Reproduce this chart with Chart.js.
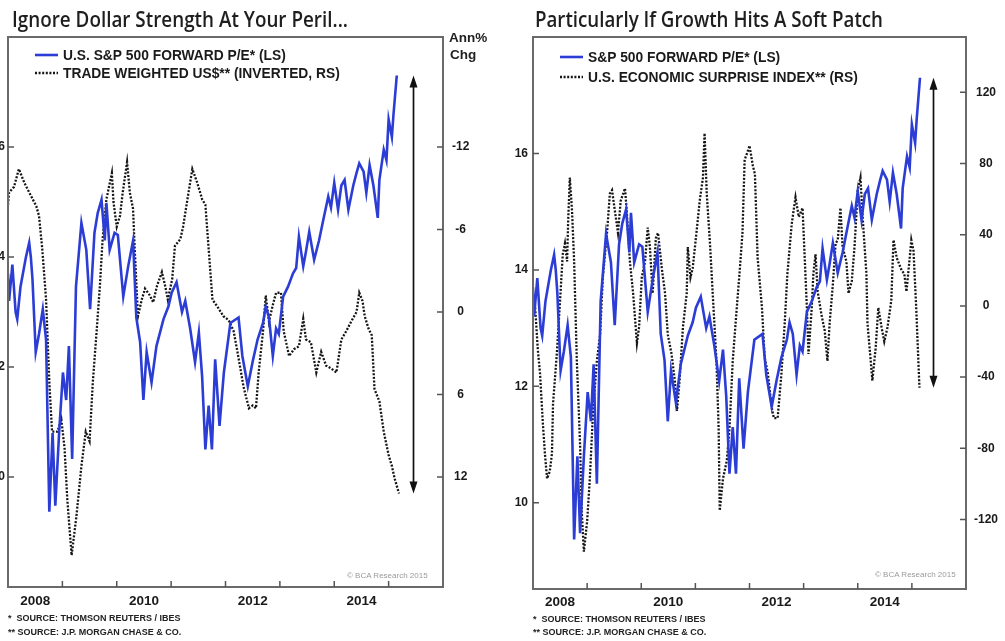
<!DOCTYPE html>
<html><head><meta charset="utf-8">
<script src="https://cdn.jsdelivr.net/npm/chart.js@4.4.1/dist/chart.umd.min.js"></script>
<style>
html,body{margin:0;padding:0;background:#fff;}
body{width:1005px;height:641px;position:relative;overflow:hidden;font-family:"Liberation Sans",Arial,sans-serif;}
canvas{position:absolute;top:0;}
#c1{left:-30px;}
#c2{left:490px;}
.title{position:absolute;top:9px;font-family:"Open Sans","Noto Sans",sans-serif;font-size:21px;line-height:21px;font-weight:600;color:#1e1e1e;white-space:nowrap;transform-origin:0 0;}
.note{position:absolute;font-size:9px;line-height:10px;font-weight:bold;color:#222;white-space:nowrap;}
.copy{position:absolute;font-size:8px;line-height:10px;color:#9a9a9a;white-space:nowrap;}
.axt{position:absolute;font-size:13.5px;line-height:15px;font-weight:bold;color:#222;white-space:nowrap;}
</style></head>
<body>
<canvas id="c1" width="518" height="641"></canvas>
<canvas id="c2" width="515" height="641"></canvas>
<div class="title" id="t1" style="left:12px;">Ignore Dollar Strength At Your Peril...</div>
<div class="title" id="t2" style="left:535px;">Particularly If Growth Hits A Soft Patch</div>
<div class="axt" style="left:449px;top:30px;">Ann%</div>
<div class="axt" style="left:450px;top:47px;">Chg</div>
<div class="copy" style="left:347px;top:571px;">© BCA Research 2015</div>
<div class="copy" style="left:875px;top:570px;">© BCA Research 2015</div>
<div class="note" style="left:8px;top:613px;">*&nbsp; SOURCE: THOMSON REUTERS / IBES</div>
<div class="note" style="left:8px;top:627px;">** SOURCE: J.P. MORGAN CHASE &amp; CO.</div>
<div class="note" style="left:533px;top:614px;">*&nbsp; SOURCE: THOMSON REUTERS / IBES</div>
<div class="note" style="left:533px;top:627px;">** SOURCE: J.P. MORGAN CHASE &amp; CO.</div>
<script>
// ---------- data ----------
const yearLabels = [2008, 2010, 2012, 2014];
const yearTicks = [2009, 2010, 2011, 2012, 2013, 2014, 2015];
const peTicks = [10, 12, 14, 16];
const usdTicks = [-12, -6, 0, 6, 12];
const esiTicks = [-120, -80, -40, 0, 40, 80, 120];

const peLabelLeft = 'U.S. S&P 500 FORWARD P/E* (LS)';
const usdLabel = 'TRADE WEIGHTED US$** (INVERTED, RS)';
const peLabelRight = 'S&P 500 FORWARD P/E* (LS)';
const esiLabel = 'U.S. ECONOMIC SURPRISE INDEX** (RS)';

const peDates = [2008.00,2008.02,2008.08,2008.14,2008.17,2008.23,2008.33,2008.39,2008.42,2008.45,2008.51,2008.57,2008.64,2008.70,2008.76,2008.82,2008.87,2008.94,
2009.01,2009.07,2009.12,2009.18,2009.25,2009.35,2009.44,2009.51,2009.59,2009.65,2009.72,2009.78,2009.81,2009.87,2009.96,
2010.02,2010.12,2010.21,2010.30,2010.36,2010.43,2010.49,2010.55,2010.64,2010.73,2010.86,2010.95,
2011.01,2011.10,2011.20,2011.26,2011.35,2011.44,2011.51,2011.57,2011.63,2011.69,2011.75,2011.81,2011.89,2011.97,
2012.09,2012.24,2012.31,2012.41,2012.50,2012.59,2012.69,2012.74,2012.80,2012.87,2012.93,2012.98,
2013.06,2013.15,2013.24,2013.30,2013.35,2013.43,2013.48,2013.54,2013.63,2013.72,2013.80,2013.89,2013.94,
2014.00,2014.07,2014.13,2014.19,2014.26,2014.35,2014.41,2014.46,2014.54,2014.59,2014.65,2014.72,2014.80,2014.83,2014.91,2014.96,
2015.00,2015.06,2015.09,2015.15];
const peValues = [13.7,13.2,13.86,13.0,12.87,13.46,14.0,14.26,14.0,13.6,12.27,12.6,13.05,12.5,9.37,10.8,9.48,10.8,
11.9,11.4,12.38,10.33,13.46,14.62,14.13,13.05,14.44,14.8,15.04,14.3,14.98,14.13,14.44,
14.4,13.28,13.83,14.3,12.9,12.45,11.4,12.27,11.72,12.38,12.87,13.1,
13.35,13.54,13.0,13.2,12.7,12.09,12.63,11.83,10.5,11.3,10.5,12.14,10.93,11.9,
12.8,12.9,12.2,11.65,12.1,12.5,12.8,13.1,12.9,12.2,12.7,12.6,
13.28,13.46,13.7,13.8,14.37,13.83,14.1,14.46,13.95,14.3,14.68,15.1,14.9,
15.35,14.86,15.3,15.4,14.86,15.3,15.53,15.7,15.55,15.17,15.67,15.3,14.71,15.4,15.95,15.76,
16.5,16.18,16.6,17.3];

const usdDates = [2008.00,2008.02,2008.11,2008.20,2008.30,2008.39,2008.52,2008.57,2008.63,2008.70,2008.76,2008.81,2008.91,2008.98,
2009.04,2009.09,2009.17,2009.26,2009.35,2009.43,2009.50,2009.56,2009.63,2009.69,2009.74,2009.81,2009.91,2009.94,
2010.00,2010.06,2010.11,2010.19,2010.24,2010.30,2010.33,2010.39,2010.46,2010.52,2010.61,2010.67,2010.74,2010.83,2010.89,2010.94,
2011.02,2011.07,2011.17,2011.22,2011.30,2011.39,2011.48,2011.57,2011.63,2011.69,2011.76,2011.85,2011.96,
2012.06,2012.15,2012.22,2012.33,2012.43,2012.50,2012.56,2012.61,2012.69,2012.74,2012.80,2012.87,2012.93,
2013.02,2013.07,2013.17,2013.26,2013.35,2013.43,2013.48,2013.57,2013.67,2013.76,2013.85,2013.94,
2014.04,2014.13,2014.22,2014.31,2014.41,2014.46,2014.52,2014.56,2014.63,2014.69,2014.74,2014.83,2014.91,
2015.00,2015.06,2015.11,2015.19];
const usdValues = [-7.8,-8.7,-9.1,-10.4,-9.4,-8.7,-7.7,-7.0,-4.6,-0.9,5.1,8.7,8.7,7.8,
9.9,13.6,17.7,14.8,11.2,8.7,9.4,5.1,1.4,-1.9,-5.3,-8.2,-10.1,-8.0,
-6.2,-7.0,-8.7,-10.9,-8.7,-7.5,-4.6,0.3,-0.9,-1.7,-1.2,-0.7,-1.9,-2.9,-1.9,-0.9,
-2.4,-4.8,-5.3,-6.2,-8.2,-10.4,-9.4,-8.2,-7.8,-4.6,-0.9,-0.4,0.3,
0.6,1.4,2.9,5.4,7.0,6.8,7.0,4.4,1.4,-1.2,0.7,-0.5,-1.4,
-1.4,1.4,3.2,2.7,2.5,0.5,2.0,2.2,4.4,2.9,3.9,4.1,
4.4,2.0,1.4,0.7,0.0,-1.4,-0.8,0.3,1.2,1.7,5.6,6.5,8.7,
10.4,11.2,12.1,13.2];

const esiDates = [2008.04,2008.09,2008.13,2008.18,2008.22,2008.26,2008.31,2008.35,2008.37,2008.44,2008.50,2008.55,2008.59,2008.63,2008.65,2008.68,2008.72,2008.76,2008.81,2008.87,2008.90,2008.94,
2009.00,2009.05,2009.11,2009.18,2009.24,2009.29,2009.37,2009.42,2009.46,2009.51,2009.57,2009.62,2009.70,2009.73,2009.79,2009.85,2009.92,2009.96,
2010.01,2010.07,2010.12,2010.16,2010.21,2010.27,2010.31,2010.38,2010.44,2010.49,2010.56,2010.62,2010.66,2010.71,2010.77,2010.84,2010.86,2010.91,2010.95,
2011.03,2011.08,2011.14,2011.17,2011.21,2011.27,2011.32,2011.39,2011.43,2011.45,2011.51,2011.58,2011.63,2011.69,2011.76,2011.82,2011.87,2011.91,2011.97,
2012.00,2012.06,2012.10,2012.15,2012.23,2012.28,2012.34,2012.41,2012.45,2012.52,2012.59,2012.65,2012.70,2012.78,2012.85,2012.91,2012.98,
2013.02,2013.06,2013.09,2013.15,2013.18,2013.22,2013.26,2013.33,2013.39,2013.44,2013.48,2013.54,2013.59,2013.63,2013.68,2013.72,2013.79,2013.83,2013.89,2013.94,
2014.00,2014.05,2014.09,2014.16,2014.18,2014.24,2014.27,2014.33,2014.38,2014.44,2014.49,2014.55,2014.62,2014.66,2014.72,2014.81,2014.86,2014.90,2014.96,2014.99,
2015.03,2015.08,2015.14];
const esiValues = [-1,-25,-38,-65,-83,-97,-93,-83,-55,-27,3,29,35,25,48,72,54,25,-31,-78,-115,-138,
-121,-97,-59,-31,-16,16,42,63,65,54,41,59,66,54,25,7,-21,-12,
16,25,44,33,7,38,41,21,7,-16,-27,-42,-59,-41,-12,7,33,16,21,
44,59,72,97,63,35,7,-31,-69,-115,-97,-87,-69,-31,-3,20,41,82,87,
90,79,74,27,-1,-29,-38,-57,-63,-63,-38,-10,18,46,61,50,55,
27,-1,-27,-1,18,29,8,-5,-14,-31,-10,12,35,37,55,33,25,7,14,33,
65,72,50,18,-10,-31,-42,-24,-1,-12,-20,-12,3,37,27,20,18,8,27,37,
31,-1,-46];

// ---------- helpers ----------
const FONT = '"Liberation Sans", Arial, sans-serif';
const toXY = (d, v) => d.map((x, i) => ({x: x, y: v[i]}));
const last = a => a[a.length - 1];

const framePlugin = {
  id: 'frame',
  afterDatasetsDraw(chart, args, o) {
    const {ctx, chartArea: a, scales: s} = chart;
    ctx.save();
    ctx.strokeStyle = '#6a6a6a'; ctx.lineWidth = 2;
    ctx.strokeRect(a.left, a.top, a.right - a.left, a.bottom - a.top);
    ctx.strokeStyle = '#555'; ctx.lineWidth = 1.5;
    ctx.beginPath();
    s.y.ticks.forEach(t => { const p = s.y.getPixelForValue(t.value); ctx.moveTo(a.left, p); ctx.lineTo(a.left + 6, p); });
    s.y2.ticks.forEach(t => { const p = s.y2.getPixelForValue(t.value); ctx.moveTo(a.right - 6, p); ctx.lineTo(a.right, p); });
    o.xTicks.forEach(v => { const p = s.x.getPixelForValue(v); ctx.moveTo(p, a.bottom); ctx.lineTo(p, a.bottom - 6); });
    ctx.stroke();
    ctx.restore();
  }
};

const arrowPlugin = {
  id: 'arrow',
  afterDatasetsDraw(chart, args, o) {
    const {ctx, scales: s} = chart;
    const x = Math.round(s.x.getPixelForValue(o.x)) + 0.5;
    const y1 = s.y.getPixelForValue(o.top);
    const y2 = s.y2.getPixelForValue(o.bottom);
    ctx.save();
    ctx.strokeStyle = '#111'; ctx.fillStyle = '#111'; ctx.lineWidth = 1.7;
    ctx.beginPath(); ctx.moveTo(x, y1 + 8); ctx.lineTo(x, y2 - 8); ctx.stroke();
    ctx.beginPath(); ctx.moveTo(x, y1); ctx.lineTo(x - 4, y1 + 12); ctx.lineTo(x + 4, y1 + 12); ctx.closePath(); ctx.fill();
    ctx.beginPath(); ctx.moveTo(x, y2); ctx.lineTo(x - 4, y2 - 12); ctx.lineTo(x + 4, y2 - 12); ctx.closePath(); ctx.fill();
    ctx.restore();
  }
};

const legendPlugin = {
  id: 'inLegend',
  afterDraw(chart, args, o) {
    const {ctx, chartArea: a} = chart;
    ctx.save();
    ctx.font = 'bold 13.8px ' + FONT;
    ctx.textBaseline = 'middle';
    ctx.fillStyle = '#1a1a1a';
    chart.data.datasets.forEach((ds, i) => {
      const y = a.top + o.rows[i];
      ctx.strokeStyle = ds.borderColor; ctx.lineWidth = ds.borderWidth;
      ctx.setLineDash(ds.borderDash || []);
      ctx.beginPath(); ctx.moveTo(a.left + 27, y); ctx.lineTo(a.left + 50, y); ctx.stroke();
      ctx.setLineDash([]);
      ctx.fillText(ds.label, a.left + 55, y + 1);
    });
    ctx.restore();
  }
};

function build(id, c) {
  const tickFont = {family: FONT, size: 12, weight: 'bold'};
  return new Chart(document.getElementById(id), {
    type: 'line',
    data: {datasets: [
      {label: c.blueLabel, data: toXY(peDates, peValues), yAxisID: 'y', borderColor: '#2c3dd6', borderWidth: 2.6, pointRadius: 0, tension: 0},
      {label: c.rsLabel, data: toXY(c.rsDates, c.rsValues), yAxisID: 'y2', borderColor: '#151515', borderWidth: 2.3, borderDash: [2, 1.6], pointRadius: 0, tension: 0}
    ]},
    plugins: [framePlugin, arrowPlugin, legendPlugin],
    options: {
      responsive: false, animation: false, devicePixelRatio: 1,
      layout: {padding: {top: 37, bottom: c.padBottom, left: 0, right: 0}},
      plugins: {
        legend: {display: false}, tooltip: {enabled: false},
        frame: {xTicks: yearTicks},
        arrow: {x: last(c.rsDates) + 0.25, top: last(peValues), bottom: last(c.rsValues)},
        inLegend: {rows: c.rows}
      },
      scales: {
        x: {
          type: 'linear', min: 2008, max: 2016,
          grid: {display: false, drawTicks: false}, border: {display: false},
          afterBuildTicks: sc => { sc.ticks = yearLabels.map(v => ({value: v + 0.5})); },
          afterFit: sc => { sc.height = 30; },
          ticks: {font: {family: FONT, size: 13.5, weight: 'bold'}, color: '#1a1a1a', padding: c.xPad, maxRotation: 0, autoSkip: false,
                  callback: v => String(Math.floor(v))}
        },
        y: {
          position: 'left', min: c.yMin, max: 18,
          grid: {display: false, drawTicks: false}, border: {display: false},
          afterBuildTicks: sc => { sc.ticks = peTicks.map(v => ({value: v})); },
          afterFit: sc => { sc.width = c.yW; },
          ticks: {font: tickFont, color: '#1a1a1a', padding: c.yPad, callback: v => String(v)}
        },
        y2: {
          position: 'right', min: c.rMin, max: c.rMax, reverse: c.reverse,
          grid: {display: false, drawTicks: false}, border: {display: false},
          afterBuildTicks: sc => { sc.ticks = c.rTicks.map(v => ({value: v})); },
          afterFit: sc => { sc.width = c.rW; },
          ticks: {font: tickFont, color: '#1a1a1a', padding: c.rPad, crossAlign: 'center', callback: v => String(v)}
        }
      }
    }
  });
}

build('c1', {blueLabel: peLabelLeft, rsLabel: usdLabel, rsDates: usdDates, rsValues: usdValues,
  padBottom: 24, xPad: 6, yMin: 8, yW: 38, yPad: 3, rMin: -20, rMax: 20, reverse: true, rTicks: usdTicks, rW: 45, rPad: 9,
  rows: [18, 36]});
build('c2', {blueLabel: peLabelRight, rsLabel: esiLabel, rsDates: esiDates, rsValues: esiValues,
  padBottom: 22, xPad: 5, yMin: 8.52, yW: 43, yPad: 5, rMin: -159, rMax: 151, reverse: false, rTicks: esiTicks, rW: 39, rPad: 8,
  rows: [20, 40]});

function fit(id, w) {
  const el = document.getElementById(id);
  const r = el.getBoundingClientRect().width;
  el.style.transform = 'scaleX(' + (w / r) + ')';
}
fit('t1', 336);
fit('t2', 348);
</script>
</body></html>
